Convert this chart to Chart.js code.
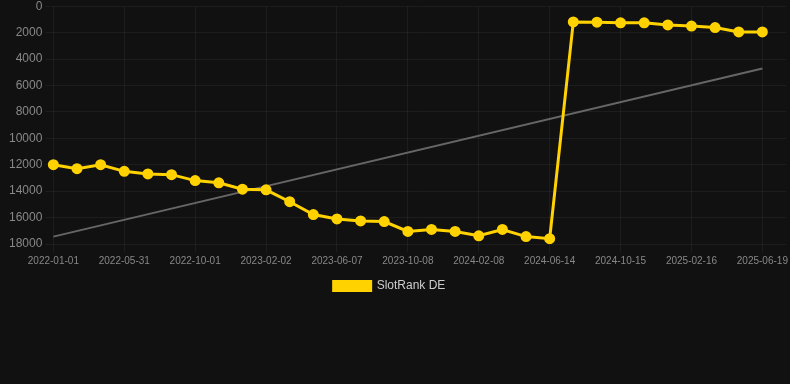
<!DOCTYPE html>
<html>
<head>
<meta charset="utf-8">
<script src="https://cdn.jsdelivr.net/npm/chart.js@4"></script>
<style>
    html, body { margin: 0; padding: 0; background: #111111; overflow: hidden; }
    #wrap { position: relative; top: -4px; left: -3px; width: 796px; height: 306px; }
</style>
</head>
<body>
<div id="wrap"><canvas id="rankChart"></canvas></div>
<script>
// Dates (one per sample, plus an empty trailing slot)
const dates = [
    '2022-01-01', '2022-02-19', '2022-04-10', '2022-05-31', '2022-07-11', '2022-08-21',
    '2022-10-01', '2022-11-11', '2022-12-22', '2023-02-02', '2023-03-15', '2023-04-26',
    '2023-06-07', '2023-07-18', '2023-08-28', '2023-10-08', '2023-11-18', '2023-12-29',
    '2024-02-08', '2024-03-20', '2024-05-02', '2024-06-14', '2024-07-25', '2024-09-04',
    '2024-10-15', '2024-11-25', '2025-01-05', '2025-02-16', '2025-03-29', '2025-05-09',
    '2025-06-19', '2025-07-30'
];

// SlotRank DE values
const rankDE = [
    12000, 12300, 12000, 12500, 12700, 12750, 13200, 13370, 13850, 13900,
    14800, 15770, 16100, 16250, 16300, 17050, 16900, 17050, 17380, 16900,
    17440, 17600, 1190, 1210, 1260, 1260, 1420, 1500, 1620, 1950,
    1950, null
];

// Trend line endpoints
const trendStart = 17440;
const trendEnd = 4710;
const trend = dates.map((_, i) => i === 0 ? trendStart : (i === rankDE.length - 2 ? trendEnd : null));

const yTicks = { min: 0, max: 18000, step: 2000 };

// nudge the legend a bit to the left, like the original
const legendShift = {
    id: 'legendShift',
    afterLayout(chart) {
        if (chart.legend) {
            chart.legend.left -= 9;
            chart.legend.right -= 9;
        }
    }
};

const ctx = document.getElementById('rankChart').getContext('2d');
new Chart(ctx, {
    type: 'line',
    data: {
        labels: dates,
        datasets: [{
            label: 'SlotRank DE',
            data: rankDE,
            borderColor: '#FFD200',
            backgroundColor: '#FFD200',
            borderWidth: 3,
            pointRadius: 4,
            pointHoverRadius: 4,
            pointBackgroundColor: '#FFD200',
            pointBorderColor: '#FFD200',
            tension: 0
        }, {
            label: 'Trend',
            data: trend,
            borderColor: '#666666',
            borderWidth: 2,
            pointRadius: 0,
            spanGaps: true,
            tension: 0
        }]
    },
    options: {
        responsive: true,
        maintainAspectRatio: false,
        animation: false,
        layout: {
            padding: { left: 9, right: 2 }
        },
        plugins: {
            legend: {
                position: 'bottom',
                labels: {
                    color: '#cccccc',
                    boxWidth: 37,
                    boxHeight: 9,
                    font: { family: 'Liberation Sans, Arial, sans-serif', size: 12 },
                    filter: item => item.text !== 'Trend'
                }
            },
            tooltip: { enabled: false }
        },
        scales: {
            y: {
                reverse: true,
                min: yTicks.min,
                max: yTicks.max,
                ticks: {
                    stepSize: yTicks.step,
                    color: '#888888',
                    callback: v => String(v),
                    font: { family: 'Liberation Sans, Arial, sans-serif', size: 12 }
                },
                grid: { color: 'rgba(255, 255, 255, 0.05)' },
                border: { display: false }
            },
            x: {
                ticks: {
                    color: '#888888',
                    maxRotation: 0,
                    autoSkip: true,
                    maxTicksLimit: 11,
                    font: { family: 'Liberation Sans, Arial, sans-serif', size: 10 }
                },
                grid: { color: 'rgba(255, 255, 255, 0.05)' },
                border: { display: false }
            }
        }
    },
    plugins: [legendShift]
});
</script>
</body>
</html>
